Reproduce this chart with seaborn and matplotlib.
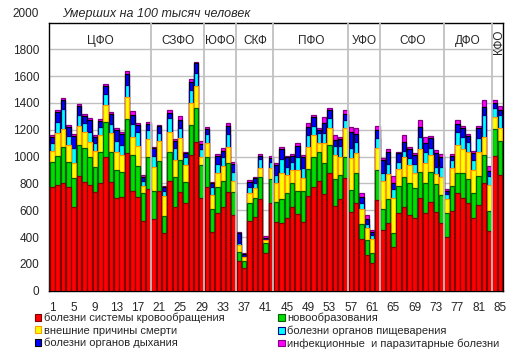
import numpy as np
import matplotlib
matplotlib.use("Agg")
import matplotlib.pyplot as plt
import matplotlib.transforms as mtransforms
import seaborn as sns
from matplotlib.patches import Patch

# values per region, deaths per 100k
krovoobr = [771, 789, 806, 771, 627, 856, 814, 789, 739, 801, 1000, 814, 689, 697, 1025, 746, 697, 522, 756,
            532, 746, 428, 821, 627, 739, 652, 1013, 1112, 689,
            771, 440, 582, 627, 739, 565,
            224, 167, 522, 547, 684, 279, 652,
            515, 503, 540, 622, 570, 515, 709, 771, 821, 722, 881, 632, 682, 838,
            590, 657, 383, 266, 204, 677,
            450, 508, 328, 582, 627, 565, 540, 689, 582, 664, 590, 508,
            398, 597, 731, 689, 652, 540, 639, 806, 448,
            1005, 863]
novoobr = [192, 219, 269, 192, 216, 231, 248, 211, 187, 236, 261, 224, 212, 191, 254, 267, 236, 209, 244,
           214, 224, 129, 216, 224, 236, 162, 224, 249, 249,
           229, 167, 194, 194, 216, 174,
           67, 57, 135, 142, 167, 79, 179,
           149, 181, 191, 179, 176, 231, 199, 229, 216, 228, 206, 201, 181, 162,
           161, 219, 115, 112, 80, 224,
           160, 176, 105, 202, 224, 236, 224, 199, 219, 224, 206, 206,
           184, 187, 145, 192, 179, 191, 219, 207, 149,
           199, 257]
vneshnie = [82, 166, 132, 122, 112, 142, 125, 112, 119, 125, 125, 137, 136, 125, 169, 131, 147, 53, 130,
            175, 150, 152, 150, 124, 162, 124, 166, 162, 62,
            105, 107, 105, 109, 120, 82,
            50, 25, 70, 80, 67, 20, 82,
            137, 197, 132, 100, 155, 92, 162, 162, 68, 150, 125, 180, 137, 212,
            240, 154, 112, 87, 102, 161,
            210, 187, 256, 124, 149, 137, 117, 167, 154, 125, 75, 137,
            100, 129, 211, 174, 206, 170, 179, 136, 192,
            95, 92]
pishchev = [55, 87, 146, 69, 112, 82, 62, 75, 55, 57, 82, 70, 83, 74, 87, 100, 107, 37, 69,
            84, 59, 37, 99, 87, 75, 62, 95, 104, 55,
            64, 62, 64, 70, 92, 67,
            17, 5, 43, 37, 62, 5, 50,
            62, 99, 63, 62, 99, 75, 92, 67, 69, 79, 74, 67, 80, 62,
            75, 82, 42, 33, 29, 75,
            60, 74, 67, 55, 45, 50, 64, 89, 82, 49, 55, 75,
            40, 62, 100, 89, 75, 74, 100, 162, 67,
            62, 99]
dykhanie = [49, 75, 70, 65, 90, 67, 55, 87, 49, 50, 62, 72, 79, 82, 82, 67, 45, 25, 45,
            57, 50, 25, 38, 58, 62, 25, 62, 70, 40,
            35, 25, 60, 45, 62, 57,
            70, 17, 37, 32, 25, 8, 30,
            75, 75, 69, 42, 80, 82, 57, 70, 25, 75, 63, 45, 50, 42,
            115, 55, 45, 37, 20, 62,
            95, 92, 45, 62, 67, 67, 68, 75, 63, 75, 99, 69,
            24, 30, 57, 68, 42, 55, 75, 57, 40,
            37, 33]
infekc = [10, 13, 13, 15, 12, 15, 12, 12, 13, 12, 13, 15, 13, 13, 18, 30, 17, 17, 17,
          8, 8, 13, 20, 12, 32, 12, 17, 12, 25,
          15, 13, 15, 17, 20, 18,
          7, 8, 15, 13, 15, 17, 12,
          12, 15, 10, 13, 20, 18, 30, 12, 13, 40, 12, 37, 19, 33,
          38, 45, 29, 30, 18, 30,
          15, 18, 55, 12, 50, 20, 17, 55, 49, 17, 25, 25,
          10, 15, 30, 17, 15, 15, 17, 55, 34,
          25, 35]

okruga = ["ЦФО", "СЗФО", "ЮФО", "СКФ", "ПФО", "УФО", "СФО", "ДФО", "КФО"]
okrug_counts = [19, 10, 6, 7, 14, 6, 12, 9, 2]

names = ["болезни системы кровообращения", "новообразования", "внешние причины смерти",
         "болезни органов пищеварения", "болезни органов дыхания",
         "инфекционные  и паразитарные болезни"]
colors = ["#ff0000", "#00dd00", "#ffff00", "#00ffff", "#0000ff", "#ff00ff"]
edges = ["#800000", "#006000", "#ff9900", "#000080", "#000000", "#800080"]

series = [krovoobr, novoobr, vneshnie, pishchev, dykhanie, infekc]
n = len(krovoobr)
idx = np.arange(n)
cum = np.cumsum(np.array(series), axis=0)

sns.set_style("white")
plt.rcParams["font.family"] = ["Liberation Sans", "DejaVu Sans"]

fig = plt.figure(figsize=(5.15, 3.57), dpi=100)
ax = fig.add_axes([49/515, 1-290.7/357, 454/515, 268.2/357])

# stacked bars: draw cumulative totals from the top layer down
for k in range(len(series) - 1, -1, -1):
    sns.barplot(x=idx, y=cum[k], color=colors[k], edgecolor=edges[k], linewidth=0.9,
                width=0.85, saturation=1, errorbar=None, ax=ax, zorder=3)

ax.set_ylim(0, 2000)
ax.set_xlim(-0.62, 84.56)
ax.set_yticks(range(0, 1801, 200))
ax.yaxis.grid(True, color="#c0c0c0", linewidth=1, zorder=0)
ax.set_axisbelow(True)
ax.set_xticks(idx[::4])
ax.set_xticklabels([str(i + 1) for i in idx[::4]])
ax.tick_params(axis="both", length=0, labelsize=8.5)
ax.tick_params(axis="y", pad=7)
ax.tick_params(axis="x", pad=8)
ax.set_xlabel("")
ax.set_ylabel("")
for s in ax.spines.values():
    s.set_color("black")
    s.set_linewidth(1)

# top label sits a little above the frame in the original
top_tr = mtransforms.offset_copy(ax.get_yaxis_transform(), fig=fig, x=-7, y=6, units="points")
ax.text(0, 2000, "2000", transform=top_tr, ha="right", va="center", fontsize=8.5)

# district separators and names
bounds = np.cumsum(okrug_counts)
for b in bounds[:-1]:
    ax.axvline(b - 0.5, color="#c0c0c0", linewidth=1.3, zorder=4)
starts = np.concatenate([[0], bounds[:-1]])
for name, s0, b in zip(okruga, starts, bounds):
    cx = (s0 + b - 1) / 2
    if name == "КФО":
        ax.text(cx + 0.3, 1855, name, ha="center", va="center", rotation=90, fontsize=8.5)
    else:
        ax.text(cx, 1860, name, ha="center", va="center", fontsize=8.5)

fig.text(62/515, 1-14/357, "Умерших на 100 тысяч человек", style="italic", fontsize=9, va="center")

handles = [Patch(facecolor=colors[k], edgecolor=edges[k], linewidth=0.8) for k in range(6)]
order = [0, 2, 4, 1, 3, 5]
fig.legend([handles[k] for k in order], [names[k] for k in order],
           loc="upper left", bbox_to_anchor=(35/515, 1-313/357), ncol=2, frameon=False,
           fontsize=8, handlelength=0.55, handleheight=0.55, handletextpad=0.25,
           labelspacing=0.2, columnspacing=4.85, borderpad=0, borderaxespad=0)

fig.savefig("out.png", dpi=100)
